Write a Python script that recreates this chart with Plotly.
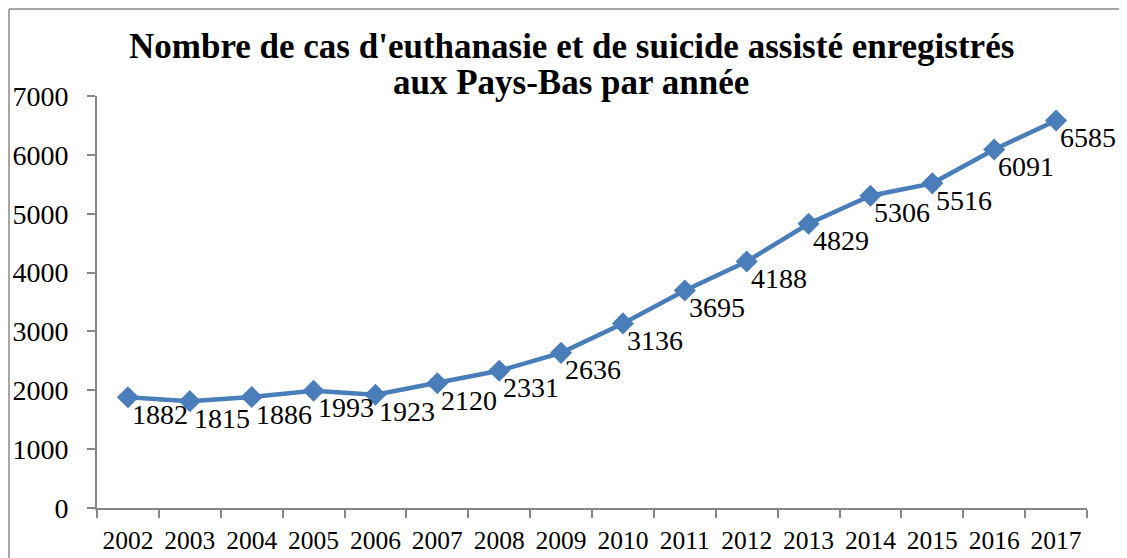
import plotly.graph_objects as go

years = ["2002", "2003", "2004", "2005", "2006", "2007", "2008", "2009",
         "2010", "2011", "2012", "2013", "2014", "2015", "2016", "2017"]
cases = [1882, 1815, 1886, 1993, 1923, 2120, 2331, 2636,
         3136, 3695, 4188, 4829, 5306, 5516, 6091, 6585]
y_ticks = [0, 1000, 2000, 3000, 4000, 5000, 6000, 7000]
title_lines = ["Nombre de cas d'euthanasie et de suicide assisté enregistrés",
               "aux Pays-Bas par année"]

BLUE = "#4A7EBB"
AXIS = "#868686"
FONT = "Liberation Serif"

W, H = 1119, 550
L, T, R, B = 89, 88, 40, 50
PW, PH = W - L - R, H - T - B


def px(xpix):
    return (xpix - L) / PW


def py(ypix):
    return 1 + (T - ypix) / PH


fig = go.Figure()
fig.add_trace(go.Scatter(
    x=years, y=cases, mode="lines+markers",
    line=dict(color=BLUE, width=4.5),
    marker=dict(symbol="diamond", size=17, color=BLUE),
    hoverinfo="skip", showlegend=False,
))

annotations = []
for i, v in enumerate(cases):
    annotations.append(dict(
        x=i, y=v, xref="x", yref="y", text=str(v), showarrow=False,
        xanchor="center", yanchor="middle", xshift=32, yshift=-17,
        font=dict(family=FONT, size=28, color="black"),
    ))

for line, ypix in zip(title_lines, [39, 75]):
    annotations.append(dict(
        text="<b>" + line + "</b>", xref="paper", yref="paper",
        x=px(563), y=py(ypix), xanchor="center", yanchor="middle",
        showarrow=False, align="center",
        font=dict(family=FONT, size=35, color="black"),
    ))

shapes = [
    dict(type="line", xref="paper", yref="paper",
         x0=px(1), x1=px(1), y0=py(1), y1=py(H + 20),
         line=dict(color="#A6A6A6", width=2)),
    dict(type="line", xref="paper", yref="paper",
         x0=px(1), x1=px(W + 20), y0=py(1), y1=py(1),
         line=dict(color="#A6A6A6", width=2)),
]

fig.update_layout(
    width=W, height=H,
    margin=dict(l=L, r=R, t=T, b=B, autoexpand=False),
    paper_bgcolor="white", plot_bgcolor="white",
    annotations=annotations, shapes=shapes,
    xaxis=dict(
        type="category", range=[-0.5, 15.5], automargin=False,
        showline=True, linecolor=AXIS, linewidth=2,
        ticks="outside", tickson="boundaries", ticklen=8, tickcolor=AXIS, tickwidth=2,
        showgrid=False, zeroline=False,
        tickfont=dict(family=FONT, size=25.5, color="black"),
        ticklabelstandoff=8,
    ),
    yaxis=dict(
        range=[0, 7000], tickvals=y_ticks, ticktext=[str(t) for t in y_ticks],
        automargin=False,
        showline=True, linecolor=AXIS, linewidth=2,
        ticks="outside", ticklen=8, tickcolor=AXIS, tickwidth=2,
        showgrid=False, zeroline=False,
        tickfont=dict(family=FONT, size=28, color="black"),
        ticklabelstandoff=13,
    ),
)

fig.write_html("out.html")
